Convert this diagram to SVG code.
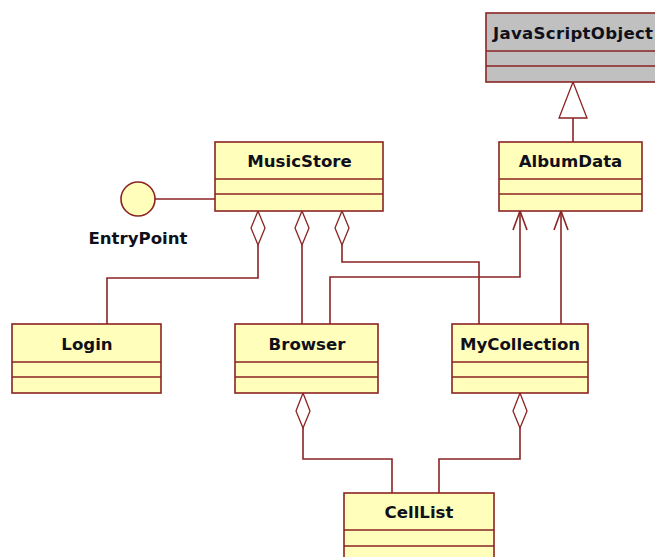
<svg xmlns="http://www.w3.org/2000/svg" width="655" height="557" viewBox="0 0 655 557">
<style>
.box{fill:#FFFFBB;stroke:#8B2323;stroke-width:1.6}
.gray{fill:#C0C0C0;stroke:#8B2323;stroke-width:1.6}
.sep{stroke:#8B2323;stroke-width:1.6}
.ln{fill:none;stroke:#8B2323;stroke-width:1.6}
.dia{fill:#FFFFFF;stroke:#8B2323;stroke-width:1.3}
.gen{fill:#FFFFFF;stroke:#8B2323;stroke-width:1.3}
text{font-family:"DejaVu Sans",Verdana,sans-serif;font-weight:bold;font-size:16.6px;fill:#10101a}
</style>
<rect width="655" height="557" fill="#FFFFFF"/>
<g id="connectors">
<line class="ln" x1="155" y1="199" x2="215" y2="199"/>
<polyline class="ln" points="258,245 258,278 107,278 107,324"/>
<line class="ln" x1="302" y1="245" x2="302" y2="324"/>
<polyline class="ln" points="342,245 342,262 479,262 479,324"/>
<polyline class="ln" points="330,324 330,277 520,277 520,211"/>
<polyline class="ln" points="513,230 520,211 527,230"/>
<line class="ln" x1="561" y1="324" x2="561" y2="211"/>
<polyline class="ln" points="554,230 561,211 568,230"/>
<polyline class="ln" points="303,428 303,459 392,459 392,493"/>
<polyline class="ln" points="520,428 520,459 439,459 439,493"/>
<line class="ln" x1="573" y1="118" x2="573" y2="142"/>
<polygon class="gen" points="573,82 559,118 587,118"/>
<polygon class="dia" points="258,211 265,228 258,245 251,228"/>
<polygon class="dia" points="302,211 309,228 302,245 295,228"/>
<polygon class="dia" points="342,211 349,228 342,245 335,228"/>
<polygon class="dia" points="303,393 310,411 303,428 296,411"/>
<polygon class="dia" points="520,393 527,411 520,428 513,411"/>
</g>
<g id="JavaScriptObject">
<rect class="gray" x="486" y="13" width="180" height="69"/>
<line class="sep" x1="486" y1="51" x2="666" y2="51"/>
<line class="sep" x1="486" y1="66" x2="666" y2="66"/>
<text x="493" y="39" letter-spacing="0.3">JavaScriptObject</text>
</g>
<g id="MusicStore">
<rect class="box" x="215" y="142" width="168" height="69"/>
<line class="sep" x1="215" y1="179" x2="383" y2="179"/>
<line class="sep" x1="215" y1="194" x2="383" y2="194"/>
<text x="299.5" y="167" text-anchor="middle">MusicStore</text>
</g>
<g id="EntryPoint">
<circle class="box" cx="138" cy="199" r="17"/>
<text x="138" y="244" text-anchor="middle">EntryPoint</text>
</g>
<g id="AlbumData">
<rect class="box" x="499" y="142" width="143" height="69"/>
<line class="sep" x1="499" y1="179" x2="642" y2="179"/>
<line class="sep" x1="499" y1="194" x2="642" y2="194"/>
<text x="570.5" y="167" text-anchor="middle">AlbumData</text>
</g>
<g id="Login">
<rect class="box" x="12" y="324" width="149" height="69"/>
<line class="sep" x1="12" y1="362" x2="161" y2="362"/>
<line class="sep" x1="12" y1="377" x2="161" y2="377"/>
<text x="87" y="349.5" text-anchor="middle">Login</text>
</g>
<g id="Browser">
<rect class="box" x="235" y="324" width="143" height="69"/>
<line class="sep" x1="235" y1="362" x2="378" y2="362"/>
<line class="sep" x1="235" y1="377" x2="378" y2="377"/>
<text x="307" y="349.5" text-anchor="middle">Browser</text>
</g>
<g id="MyCollection">
<rect class="box" x="452" y="324" width="136" height="69"/>
<line class="sep" x1="452" y1="362" x2="588" y2="362"/>
<line class="sep" x1="452" y1="377" x2="588" y2="377"/>
<text x="520" y="349.5" text-anchor="middle">MyCollection</text>
</g>
<g id="CellList">
<rect class="box" x="344" y="493" width="150" height="70"/>
<line class="sep" x1="344" y1="530" x2="494" y2="530"/>
<line class="sep" x1="344" y1="546" x2="494" y2="546"/>
<text x="419" y="518" text-anchor="middle">CellList</text>
</g>
</svg>
